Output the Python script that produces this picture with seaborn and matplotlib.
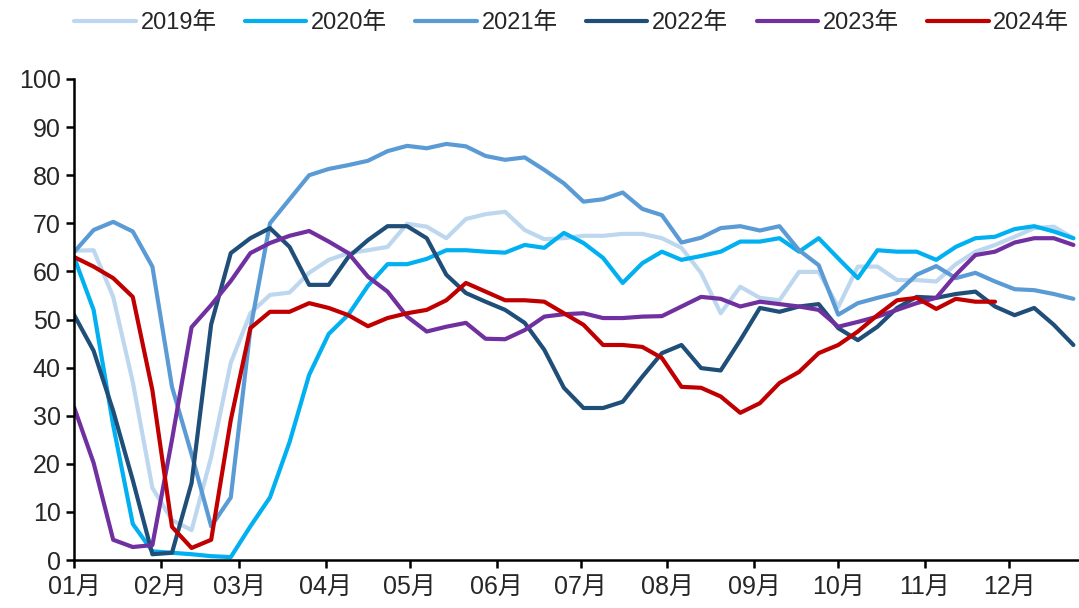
import numpy as np
import pandas as pd
import matplotlib.pyplot as plt
import seaborn as sns

# Weekly series -------------------------------------------------------------
years = ["2019年", "2020年", "2021年", "2022年", "2023年", "2024年"]
colors = ["#BDD7EE", "#00B0F0", "#5B9BD5", "#1F4E79", "#7030A0", "#C00000"]

v2019 = [64.3, 64.4, 54.7, 37, 15, 8.3, 6.2, 21.4, 41, 51.3, 55.1, 55.6, 59.7, 62.4,
         63.8, 64.4, 65.1, 69.9, 69.3, 66.9, 70.9, 71.9, 72.4, 68.6, 66.7, 66.9, 67.4,
         67.4, 67.8, 67.8, 66.9, 64.9, 59.7, 51.3, 56.8, 54.5, 54, 59.9, 59.9, 52.6,
         61, 61, 58.2, 58.2, 57.9, 61.5, 64.1, 65.5, 67.2, 69, 69.3, 66.9]
v2020 = [63, 52, 28, 7.5, 1.8, 1.5, 1.2, 0.8, 0.6, 7, 13, 24.5, 38.5, 47, 51, 57,
         61.5, 61.5, 62.6, 64.4, 64.4, 64.1, 63.9, 65.5, 64.9, 68, 65.9, 62.8, 57.6,
         61.7, 64.1, 62.4, 63.2, 64.1, 66.2, 66.2, 66.9, 64.1, 66.9, 62.7, 58.6, 64.4,
         64.1, 64.1, 62.4, 65.1, 66.9, 67.2, 68.8, 69.4, 68.3, 66.9]
v2021 = [64, 68.6, 70.3, 68.3, 61, 36, 22, 7, 13, 48, 70, 75, 80, 81.3, 82.1, 83,
         85, 86.1, 85.6, 86.5, 86, 84, 83.2, 83.7, 81.1, 78.3, 74.5, 75, 76.4, 73,
         71.7, 66, 67, 69, 69.4, 68.5, 69.4, 64.4, 61.3, 51, 53.4, 54.5, 55.5, 59.3,
         61.1, 58.6, 59.7, 57.9, 56.3, 56.1, 55.3, 54.3]
v2022 = [51, 43.5, 31, 16.6, 1.2, 1.5, 16, 49, 63.8, 66.9, 69, 65.1, 57.2, 57.2, 63,
         66.5, 69.4, 69.4, 66.9, 59.3, 55.5, 53.7, 52, 49.3, 43.7, 35.8, 31.6, 31.6,
         32.9, 38.1, 43, 44.7, 39.9, 39.4, 45.7, 52.4, 51.6, 52.7, 53.2, 48.2, 45.7,
         48.5, 52.4, 54.7, 54.5, 55.3, 55.8, 52.7, 50.9, 52.4, 48.9, 44.7]
v2023 = [31.8, 20.2, 4.2, 2.7, 3.1, 25, 48.4, 53, 58, 63.8, 65.9, 67.4, 68.4, 66.2,
         63.8, 58.9, 55.8, 50.6, 47.5, 48.5, 49.3, 46, 45.9, 47.8, 50.6, 51.1, 51.3,
         50.3, 50.3, 50.6, 50.7, 52.7, 54.7, 54.3, 52.7, 53.7, 53.2, 52.7, 52, 48.5,
         49.5, 50.6, 52, 53.4, 54.5, 59.3, 63.4, 64.1, 66, 66.9, 66.9, 65.5]
v2024 = [63, 61, 58.6, 54.7, 35.3, 6.9, 2.5, 4.2, 29.1, 48.2, 51.6, 51.6, 53.4, 52.4,
         50.9, 48.6, 50.3, 51.3, 52, 54, 57.6, 55.8, 54, 54, 53.7, 51.3, 48.9, 44.7,
         44.7, 44.3, 42, 36, 35.8, 34, 30.6, 32.6, 36.8, 39.1, 43, 44.7, 47.5, 50.9,
         54, 54.5, 52.2, 54.3, 53.7, 53.7]

month_days = [0, 31, 59, 90, 120, 151, 181, 212, 243, 273, 304, 334]
month_labels = ["01月", "02月", "03月", "04月", "05月", "06月",
                "07月", "08月", "09月", "10月", "11月", "12月"]

# Long table: one row per week and year
frames = []
for name, vals in zip(years, [v2019, v2020, v2021, v2022, v2023, v2024]):
    frames.append(pd.DataFrame({"day": np.arange(len(vals)) * 7,
                                "value": vals, "year": name}))
df = pd.concat(frames, ignore_index=True)

# Plot ----------------------------------------------------------------------
sns.set_style("ticks")
plt.rcParams["font.family"] = ["Liberation Sans", "Noto Sans CJK SC", "DejaVu Sans"]

fig = plt.figure(figsize=(10.79, 6.08), dpi=100)
ax = fig.add_axes([74 / 1079, 1 - 560 / 608, 1 - 74 / 1079, (560 - 79) / 608])

sns.lineplot(data=df, x="day", y="value", hue="year", hue_order=years,
             palette=dict(zip(years, colors)), linewidth=3, ax=ax,
             estimator=None, sort=False)

ax.set_xlim(0, 359)
ax.set_ylim(0, 100)
ax.set_yticks(range(0, 101, 10))
ax.set_xticks(month_days)
ax.set_xticklabels(month_labels)
ax.set_xlabel("")
ax.set_ylabel("")
ax.tick_params(axis="both", labelsize=18, length=6, width=1.8, color="black",
               direction="out")
ax.tick_params(axis="x", pad=5)
for side in ["left", "bottom"]:
    ax.spines[side].set_linewidth(1.8)
    ax.spines[side].set_color("black")
sns.despine(ax=ax)

handles, labels = ax.get_legend_handles_labels()
ax.get_legend().remove()
fig.legend(handles, labels, loc="upper center", bbox_to_anchor=(0.53, 1.015),
           ncol=6, frameon=False, fontsize=17, handlelength=2.6,
           handletextpad=0.2, columnspacing=1.2)

fig.savefig("out.png", dpi=100)
